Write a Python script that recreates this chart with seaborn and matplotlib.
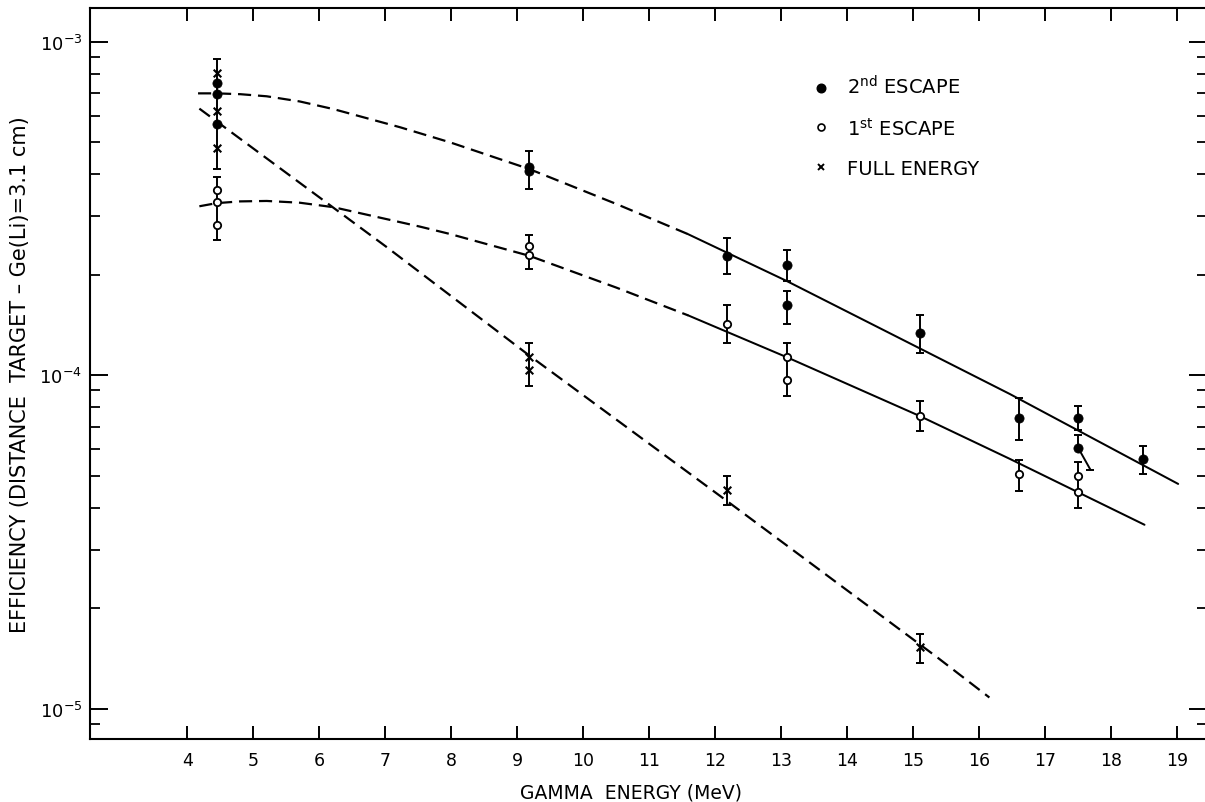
import numpy as np
import matplotlib
matplotlib.use("Agg")
import matplotlib.pyplot as plt
import seaborn as sns
from matplotlib.ticker import LogLocator, NullFormatter, NullLocator

# ---------------- data ----------------
# measured efficiencies
x_2nd = [4.44, 4.44, 4.44, 9.17, 9.17, 12.17, 13.09, 13.09, 15.10, 16.60, 17.50, 17.50, 18.48]
y_2nd = [7.50e-4, 6.97e-4, 5.66e-4, 4.20e-4, 4.10e-4, 2.28e-4, 2.14e-4, 1.62e-4, 1.335e-4,
         7.44e-5, 7.44e-5, 6.03e-5, 5.61e-5]

x_1st = [4.44, 4.44, 4.44, 9.17, 9.17, 12.17, 13.09, 13.09, 15.10, 16.60, 17.50, 17.50]
y_1st = [3.59e-4, 3.30e-4, 2.82e-4, 2.44e-4, 2.29e-4, 1.42e-4, 1.13e-4, 9.67e-5, 7.53e-5,
         5.06e-5, 4.98e-5, 4.46e-5]

x_full = [4.44, 4.44, 4.44, 9.17, 9.17, 12.17, 15.10]
y_full = [8.06e-4, 6.18e-4, 4.80e-4, 1.13e-4, 1.04e-4, 4.53e-5, 1.528e-5]

# error bars (low / high)
err_x = [4.44, 4.44, 9.17, 9.17, 9.17, 12.17, 12.17, 12.17, 13.09, 13.09, 13.09,
         15.10, 15.10, 15.10, 16.60, 16.60, 17.50, 17.50, 17.50, 18.48]
err_lo = [4.15e-4, 2.55e-4, 3.62e-4, 2.08e-4, 9.3e-5, 2.01e-4, 1.246e-4, 4.08e-5,
          1.92e-4, 1.42e-4, 8.64e-5, 1.163e-4, 6.79e-5, 1.367e-5, 6.39e-5, 4.49e-5,
          6.85e-5, 6.03e-5, 4.00e-5, 5.06e-5]
err_hi = [8.87e-4, 3.94e-4, 4.69e-4, 2.63e-4, 1.25e-4, 2.58e-4, 1.627e-4, 5.00e-5,
          2.37e-4, 1.79e-4, 1.249e-4, 1.516e-4, 8.35e-5, 1.675e-5, 8.54e-5, 5.58e-5,
          8.07e-5, 6.62e-5, 5.48e-5, 6.14e-5]
# slanted error-bar tail at 17.5 MeV
tail_x = [17.50, 17.68]
tail_y = [6.03e-5, 5.21e-5]

# fitted curves
top_dash_x = [4.16, 4.44, 4.80, 5.20, 5.70, 6.21, 7.22, 7.98, 9.18, 10.50, 11.58]
top_dash_y = [7.00e-4, 7.00e-4, 6.96e-4, 6.86e-4, 6.62e-4, 6.28e-4, 5.54e-4, 4.99e-4,
              4.15e-4, 3.26e-4, 2.65e-4]
top_solid_x = [11.58, 13.07, 16.46, 19.01]
top_solid_y = [2.65e-4, 1.92e-4, 8.78e-5, 4.72e-5]

mid_dash_x = [4.18, 4.44, 4.80, 5.20, 5.70, 6.21, 7.52, 7.98, 9.18, 10.50, 11.59]
mid_dash_y = [3.21e-4, 3.28e-4, 3.32e-4, 3.33e-4, 3.29e-4, 3.19e-4, 2.79e-4, 2.65e-4,
              2.28e-4, 1.83e-4, 1.51e-4]
mid_solid_x = [11.59, 13.09, 15.09, 16.46, 18.50]
mid_solid_y = [1.51e-4, 1.13e-4, 7.55e-5, 5.61e-5, 3.56e-5]

full_x = [4.18, 7.02, 9.18, 12.17, 15.35, 16.15]
full_y = [6.30e-4, 2.42e-4, 1.145e-4, 4.20e-5, 1.43e-5, 1.08e-5]

x_ticks = list(range(4, 20))
x_tick_labels = [str(v) for v in x_ticks]
y_ticks = [1e-5, 1e-4, 1e-3]
y_tick_labels = [r"$10^{-5}$", r"$10^{-4}$", r"$10^{-3}$"]

legend_labels = [r"2$^{\mathrm{nd}}$ ESCAPE", r"1$^{\mathrm{st}}$ ESCAPE", "FULL ENERGY"]
x_label = "GAMMA  ENERGY (MeV)"
y_label = "EFFICIENCY (DISTANCE  TARGET \u2013 Ge(Li)=3.1 cm)"

# ---------------- figure ----------------
sns.set_style("ticks")
plt.rcParams["font.family"] = ["DejaVu Sans"]
plt.rcParams["mathtext.fontset"] = "dejavusans"

W, H = 1205, 803
fig = plt.figure(figsize=(W / 100, H / 100), dpi=100)
L, R, T, B = 90, 1207, 9, 740
ax = fig.add_axes([L / W, (H - B) / H, (R - L) / W, (B - T) / H])

ink = "black"
dash = (0, (5.9, 3.1))

# curves
sns.lineplot(x=top_dash_x, y=top_dash_y, ax=ax, color=ink, lw=1.6, linestyle=dash,
             sort=False, estimator=None)
sns.lineplot(x=top_solid_x, y=top_solid_y, ax=ax, color=ink, lw=1.45, sort=False, estimator=None)
sns.lineplot(x=mid_dash_x, y=mid_dash_y, ax=ax, color=ink, lw=1.6, linestyle=dash,
             sort=False, estimator=None)
sns.lineplot(x=mid_solid_x, y=mid_solid_y, ax=ax, color=ink, lw=1.45, sort=False, estimator=None)
sns.lineplot(x=full_x, y=full_y, ax=ax, color=ink, lw=1.6, linestyle=dash,
             sort=False, estimator=None)

# error bars
lo = np.array(err_lo)
hi = np.array(err_hi)
ax.errorbar(err_x, lo, yerr=[np.zeros_like(lo), hi - lo], fmt="none", ecolor=ink,
            elinewidth=1.4, capsize=2.6, capthick=1.4, zorder=3)
ax.plot(tail_x, tail_y, color=ink, lw=1.4, zorder=3)
ax.plot(tail_x[1:], tail_y[1:], marker="_", ms=5.2, mew=1.4, color=ink, zorder=3)

# points
sns.scatterplot(x=x_full, y=y_full, ax=ax, marker="x", s=30, color=ink, edgecolor=ink,
                linewidth=1.5, zorder=4, legend=False)
sns.scatterplot(x=x_1st, y=y_1st, ax=ax, marker="o", s=28, color="white", edgecolor=ink,
                linewidth=1.3, zorder=5, legend=False)
sns.scatterplot(x=x_2nd, y=y_2nd, ax=ax, marker="o", s=44, color=ink, edgecolor=ink,
                linewidth=0.5, zorder=5, legend=False)

# axes
ax.set_yscale("log")
ax.set_xlim(2.523, 19.447)
ax.set_ylim(8.11e-6, 1.262e-3)

ax.set_xticks(x_ticks)
ax.set_xticklabels(x_tick_labels)
ax.xaxis.set_minor_locator(NullLocator())
ax.set_yticks(y_ticks)
ax.set_yticklabels(y_tick_labels)
ax.yaxis.set_minor_locator(LogLocator(base=10, subs=np.arange(2, 10)))
ax.yaxis.set_minor_formatter(NullFormatter())

ax.tick_params(axis="x", which="major", direction="in", top=True, bottom=True,
               length=9.4, width=1.4, labelsize=12.5, pad=9, color=ink, labelcolor=ink)
ax.tick_params(axis="y", which="major", direction="in", left=True, right=True,
               length=13, width=1.4, labelsize=13, pad=5.5, color=ink, labelcolor=ink)
ax.tick_params(axis="y", which="minor", direction="in", left=True, right=True,
               length=7.2, width=1.3, color=ink)

for side in ["left", "bottom", "top"]:
    ax.spines[side].set_linewidth(1.5)
    ax.spines[side].set_color(ink)
ax.spines["right"].set_visible(False)

ax.set_xlabel(x_label, fontsize=13.5, color=ink)
ax.xaxis.set_label_coords((631 - L) / (R - L), (B - 784) / (B - T))
ax.set_ylabel(y_label, fontsize=15, color=ink)
ax.yaxis.set_label_coords((30 - L) / (R - L), 0.5)

# legend (manual, matching the reference layout)
def fx(px):
    return (px - L) / (R - L)

def fy(py):
    return (B - py) / (B - T)

leg_marker_y = [89.3, 128.3, 168.3]
leg_text_base = [94.8, 136.0, 174.8]
ax.plot([fx(821.5)], [fy(leg_marker_y[0])], transform=ax.transAxes, marker="o", ms=6.2,
        color=ink, ls="none", clip_on=False)
ax.plot([fx(821.5)], [fy(leg_marker_y[1])], transform=ax.transAxes, marker="o", ms=5.0,
        mfc="white", mec=ink, mew=1.2, ls="none", clip_on=False)
ax.plot([fx(821.5)], [fy(leg_marker_y[2])], transform=ax.transAxes, marker="x", ms=4.5,
        mew=1.4, color=ink, ls="none", clip_on=False)
for lab, by in zip(legend_labels, leg_text_base):
    ax.text(fx(846.7), fy(by), lab, transform=ax.transAxes, fontsize=14, color=ink,
            ha="left", va="baseline")

fig.savefig("out.png", dpi=100, facecolor="white")
